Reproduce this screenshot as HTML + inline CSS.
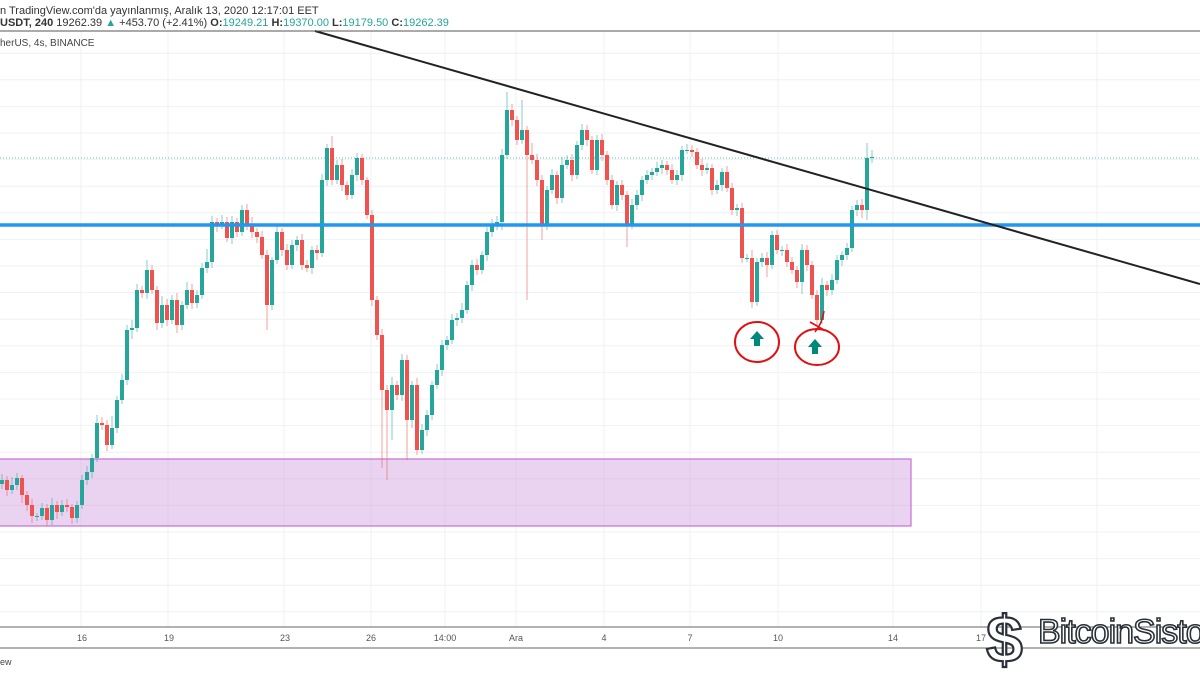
<!DOCTYPE html>
<html><head><meta charset="utf-8"><style>
html,body{margin:0;padding:0;background:#fff;}
body{width:1200px;height:675px;overflow:hidden;position:relative;font-family:"Liberation Sans",sans-serif;}
.t{position:absolute;white-space:nowrap;}
</style></head><body>
<svg id="chart" width="1200" height="675" style="position:absolute;left:0;top:0">
  <g id="grid"></g>
  <rect x="-2" y="459" width="913" height="67" fill="rgba(200,140,215,0.38)" stroke="#c76fd6" stroke-width="1.2"/>
  <line x1="0" y1="158" x2="1200" y2="158" stroke="#26a69a" stroke-width="1" stroke-dasharray="1,2" opacity="0.7"/>
  <g id="candles"></g>
  <line x1="0" y1="225" x2="1200" y2="225" stroke="#2196f3" stroke-width="3.5"/>
  <line x1="315" y1="31" x2="1200" y2="284" stroke="#222" stroke-width="2"/>
  <line x1="0" y1="31" x2="1200" y2="31" stroke="#555" stroke-width="1"/>
  <line x1="0" y1="627" x2="1200" y2="627" stroke="#666" stroke-width="1"/>
  <line x1="0" y1="648" x2="1200" y2="648" stroke="#666" stroke-width="1"/>
  <g id="xticks"></g>
  <ellipse cx="757" cy="342" rx="22" ry="20" fill="none" stroke="#e01010" stroke-width="2"/>
  <ellipse cx="817" cy="347" rx="22" ry="18" fill="none" stroke="#e01010" stroke-width="2"/>
  <path d="M757,331 L764,339 L760,339 L760,346 L754,346 L754,339 L750,339 Z" fill="#00897b"/>
  <path d="M815,339 L822,347 L818,347 L818,354 L812,354 L812,347 L808,347 Z" fill="#00897b"/>
  <path d="M810,322 L824,330 M824,311 Q822,324 815,332" fill="none" stroke="#e01010" stroke-width="1.6"/>
  <g>
    <text x="986" y="662" font-family="Liberation Sans,sans-serif" font-size="66" font-weight="bold" fill="#fff" stroke="#2a3038" stroke-width="2.2">$</text>
    <text x="1038" y="643" font-family="Liberation Sans,sans-serif" font-size="34" fill="#fff" stroke="#2a3038" stroke-width="1.6" letter-spacing="-1">BitcoinSisto</text>
  </g>
</svg>
<div class="t" style="left:0;top:5px;font-size:11px;color:#333">n TradingView.com'da yayınlanmış, Aralık 13, 2020 12:17:01 EET</div>
<div class="t" style="left:0;top:17px;font-size:11px;color:#333"><b>USDT, 240</b> 19262.39 <span style="color:#26a69a">▲</span> +453.70 (+2.41%) <b>O:</b><span style="color:#26a69a">19249.21</span> <b>H:</b><span style="color:#26a69a">19370.00</span> <b>L:</b><span style="color:#26a69a">19179.50</span> <b>C:</b><span style="color:#26a69a">19262.39</span></div>
<div class="t" style="left:0;top:38px;font-size:10px;color:#444">herUS, 4s, BINANCE</div>
<div class="t" style="left:0;top:657px;font-size:9px;color:#444">ew</div>
<script>
const closes=[16040,15940,15990,16060,15890,15790,15680,15680,15760,15640,
15790,15720,15790,15770,15660,15790,16040,16120,16260,16610,
16590,16390,16560,16840,17040,17540,17560,17940,17910,18140,
17940,17610,17790,17640,17840,17590,17790,17940,17810,17890,
18160,18220,18620,18600,18620,18460,18620,18520,18740,18590,
18520,18470,18290,17790,18240,18520,18340,18190,18390,18440,
18190,18160,18340,18310,19040,19360,19040,19190,18990,18890,
19090,19260,19040,18690,17840,17490,16940,16740,16990,16890,
17240,16640,16990,16340,16540,16690,16990,17140,17390,17440,
17640,17660,17740,17990,18190,18140,18290,18520,18580,18620,
19290,19740,19640,19440,19540,19290,19240,19040,18590,18940,
19090,18860,19190,19240,19090,19390,19540,19440,19140,19440,
19290,19040,18790,18990,18890,18590,18790,18890,19040,19090,
19120,19160,19190,19140,19040,19090,19340,19340,19320,19190,
19140,19160,18940,18990,19120,18960,18740,18760,18260,18260,
17820,18220,18260,18190,18490,18340,18340,18220,18140,18020,
18340,18190,17890,17640,17990,17940,18040,18240,18290,18360,
18740,18790,18740,19260,19270];
const wickUp=[60,40,80,50,30,40,60,30,50,40,70,40,50,60,30,40,50,60,40,80,
60,50,120,40,60,50,80,60,40,100,50,40,90,60,50,70,40,80,60,50,
50,130,60,40,70,50,60,40,50,60,80,40,60,50,30,70,40,60,50,40,
60,50,40,50,60,40,120,50,60,40,60,50,40,30,50,40,60,50,80,40,
60,50,40,70,60,50,40,60,50,40,60,50,70,40,50,60,40,50,70,60,
60,180,60,40,300,40,120,60,50,40,60,40,80,50,60,40,60,50,40,50,
60,40,50,40,50,40,60,50,40,50,40,60,50,40,60,50,40,60,50,40,
60,50,40,50,40,60,50,40,50,40,80,40,50,60,40,50,40,60,50,40,
60,50,40,50,70,40,60,50,40,50,40,50,60,150,70];
const wickDn=[50,60,40,50,80,60,70,50,40,60,50,70,40,50,60,50,40,50,60,40,
50,60,40,50,40,50,90,40,50,60,40,70,50,60,40,80,50,40,60,50,
40,50,60,80,50,40,60,50,40,50,60,60,40,250,50,40,60,50,40,60,
50,40,60,70,40,60,50,40,60,50,40,60,50,40,60,50,780,700,300,50,
60,400,80,50,40,60,50,40,60,50,40,60,50,40,60,50,40,60,50,40,
80,40,60,50,40,1450,40,60,150,50,40,60,50,40,60,40,50,60,40,50,
60,50,40,60,50,220,40,50,60,40,50,40,60,50,40,50,60,40,50,40,
60,40,50,40,60,40,50,60,50,40,60,40,50,120,40,40,60,50,40,60,
120,60,40,50,40,60,50,40,60,50,40,60,80,100,50,40,60,50,40,60,
40,50,40,60,40];
const xLabels=["16","19","23","26","14:00","Ara","4","7","10","14","17"];
const xLabelPos=[82,169,285,371,445,516,604,690,778,893,981];
const firstOpen=16000;

const NS="http://www.w3.org/2000/svg";
function yScale(p){return (20840-p)/10;}
function xScale(i){return 2+5*i;}
function mk(tag,attrs,parent){const e=document.createElementNS(NS,tag);for(const k in attrs)e.setAttribute(k,attrs[k]);parent.appendChild(e);return e;}

const grid=document.getElementById('grid');
for(let k=-4;k<19;k++){const y=133+26.6*k;if(y<31||y>627)continue;
  const l=mk('line',{x1:0,x2:1200,y1:y,y2:y,stroke:'#eef2f5','stroke-width':1},grid);
  
  }
const vg=[81,168,284,371,445,516,604,690,778,893,981,1097];
vg.forEach(x=>{const l=mk('line',{x1:x,x2:x,y1:31,y2:627,stroke:'#eef2f5','stroke-width':1},grid);
  
  });

const cg=document.getElementById('candles');
let prev=firstOpen;
closes.forEach((c,i)=>{
  const o=prev;prev=c;
  const up=c>=o;const col=up?'#26a69a':'#ef5350';
  const hi=Math.max(o,c)+(wickUp[i]||40);const lo=Math.min(o,c)-(wickDn[i]||40);
  const x=xScale(i);
  const g=mk('g',{},cg);
  
  
  mk('line',{x1:x,x2:x,y1:yScale(hi),y2:yScale(lo),stroke:col,'stroke-width':1,opacity:0.55},g);
  const yt=yScale(Math.max(o,c)),yb=yScale(Math.min(o,c));
  mk('rect',{x:x-2,y:yt,width:4,height:Math.max(1,yb-yt),fill:col},g);
});

const xt=document.getElementById('xticks');
xLabels.forEach((s,i)=>{const t=mk('text',{x:xLabelPos[i],y:641,'font-size':9,fill:'#555','text-anchor':'middle','font-family':'Liberation Sans,sans-serif'},xt);
  t.textContent=s;
  
  });
</script>
</body></html>
